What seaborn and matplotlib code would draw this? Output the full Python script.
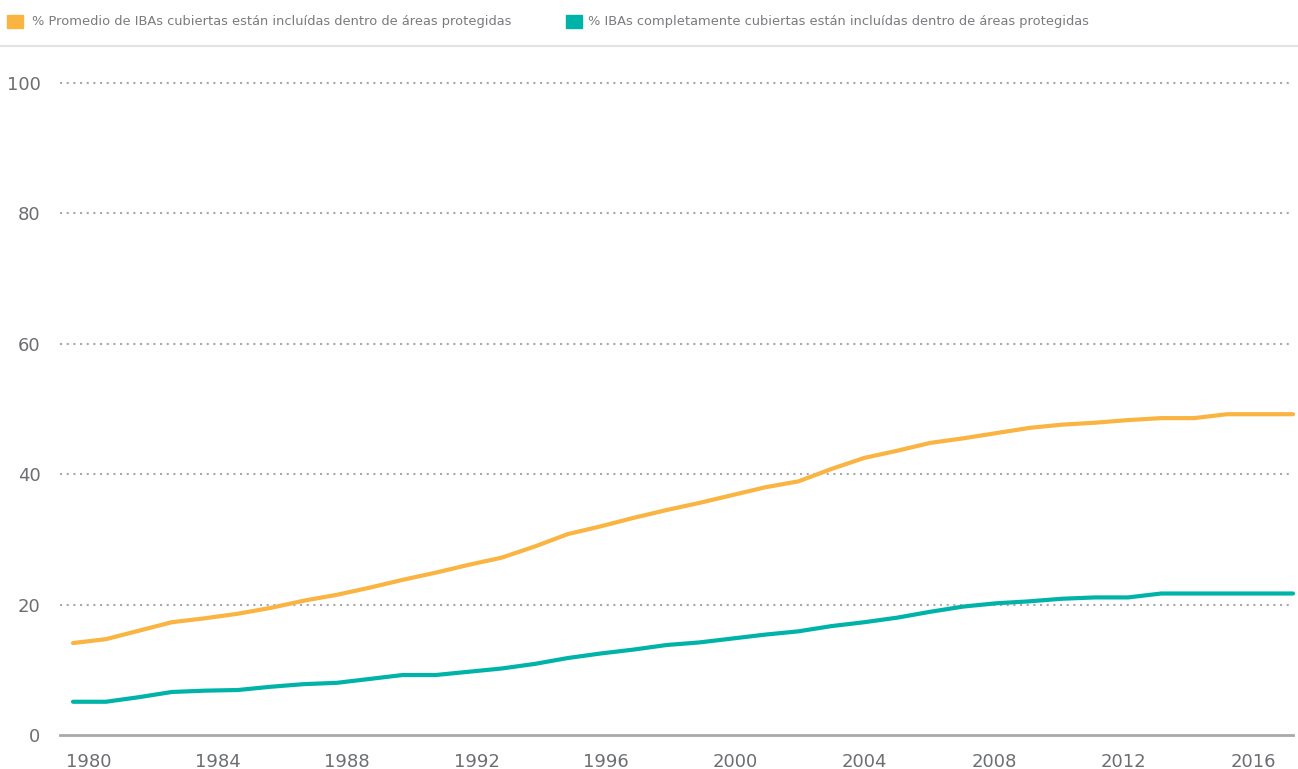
import numpy as np
import pandas as pd
import matplotlib
matplotlib.use("Agg")
import matplotlib.pyplot as plt
from matplotlib.patches import Rectangle
from matplotlib.lines import Line2D
import seaborn as sns

years = list(range(1980, 2018))
promedio = [14.1, 14.7, 16.0, 17.3, 17.9, 18.6, 19.5, 20.6, 21.5, 22.6,
            23.8, 24.9, 26.1, 27.2, 28.9, 30.8, 32.0, 33.3, 34.5, 35.6,
            36.8, 38.0, 38.9, 40.8, 42.5, 43.6, 44.8, 45.5, 46.3, 47.1,
            47.6, 47.9, 48.3, 48.6, 48.6, 49.2, 49.2, 49.2]
completas = [5.1, 5.1, 5.8, 6.6, 6.8, 6.9, 7.4, 7.8, 8.0, 8.6,
             9.2, 9.2, 9.7, 10.2, 10.9, 11.8, 12.5, 13.1, 13.8, 14.2,
             14.8, 15.4, 15.9, 16.7, 17.3, 18.0, 18.9, 19.7, 20.2, 20.5,
             20.9, 21.1, 21.1, 21.7, 21.7, 21.7, 21.7, 21.7]
tick_years = [1980, 1984, 1988, 1992, 1996, 2000, 2004, 2008, 2012, 2016]
y_ticks = [0, 20, 40, 60, 80, 100]

lab1 = "% Promedio de IBAs cubiertas están incluídas dentro de áreas protegidas"
lab2 = "% IBAs completamente cubiertas están incluídas dentro de áreas protegidas"
orange = "#F9B442"
teal = "#00B3A8"
gray_txt = "#6D6E71"

df = pd.DataFrame({
    "year": years * 2,
    "valor": promedio + completas,
    "serie": [lab1] * len(years) + [lab2] * len(years),
})

sns.set_theme(style="white")
plt.rcParams["font.family"] = ["DejaVu Sans"]

W, H = 1298, 769
fig = plt.figure(figsize=(W / 100, H / 100), dpi=100)
ax = fig.add_axes([60 / W, (H - 735) / H, (1293 - 60) / W, (735 - 83) / H])

sns.lineplot(data=df, x="year", y="valor", hue="serie",
             palette=[orange, teal], linewidth=3, ax=ax, legend=False,
             solid_capstyle="round", clip_on=False)

# px per year of the data vs. label placement in the original
px_year = (1293 - 73) / 37.0
ax.set_xlim(1980 + (60 - 73) / px_year, 2017)
ax.set_ylim(0, 100)

tick_pos = [1980 + (88.3 + 129.4 * k - 73) / px_year for k in range(len(tick_years))]
ax.set_xticks(tick_pos)
ax.set_xticklabels([str(y) for y in tick_years])
ax.set_yticks(y_ticks)
ax.set_yticklabels([str(v) for v in y_ticks])
ax.tick_params(axis="both", length=0, labelsize=13, colors=gray_txt)
ax.tick_params(axis="x", pad=13)
ax.tick_params(axis="y", pad=14)

for v in y_ticks[1:]:
    ax.axhline(v, color="#A7A9AC", linewidth=1.5, linestyle=(0, (1, 2.2)),
               zorder=0, clip_on=False)
for s in ["top", "right", "left"]:
    ax.spines[s].set_visible(False)
ax.spines["bottom"].set_color("#A7A9AC")
ax.spines["bottom"].set_linewidth(2)
ax.set_xlabel("")
ax.set_ylabel("")

# legend row at top
leg_font = ["Liberation Sans Narrow", "DejaVu Sans"]
fig.patches.append(Rectangle((7 / W, 1 - 28 / H), 16 / W, 13 / H,
                             transform=fig.transFigure, color=orange))
fig.text(32 / W, 1 - 22 / H, lab1, fontsize=9.4, color="#7A7B7E",
         va="center", ha="left", family=leg_font)
fig.patches.append(Rectangle((566 / W, 1 - 28 / H), 16 / W, 13 / H,
                             transform=fig.transFigure, color=teal))
fig.text(588 / W, 1 - 22 / H, lab2, fontsize=9.4, color="#7A7B7E",
         va="center", ha="left", family=leg_font)
fig.lines.append(Line2D([0, 1], [1 - 46 / H, 1 - 46 / H], transform=fig.transFigure,
                        color="#E3E3E3", linewidth=1.5))

fig.savefig("out.png", dpi=100)
